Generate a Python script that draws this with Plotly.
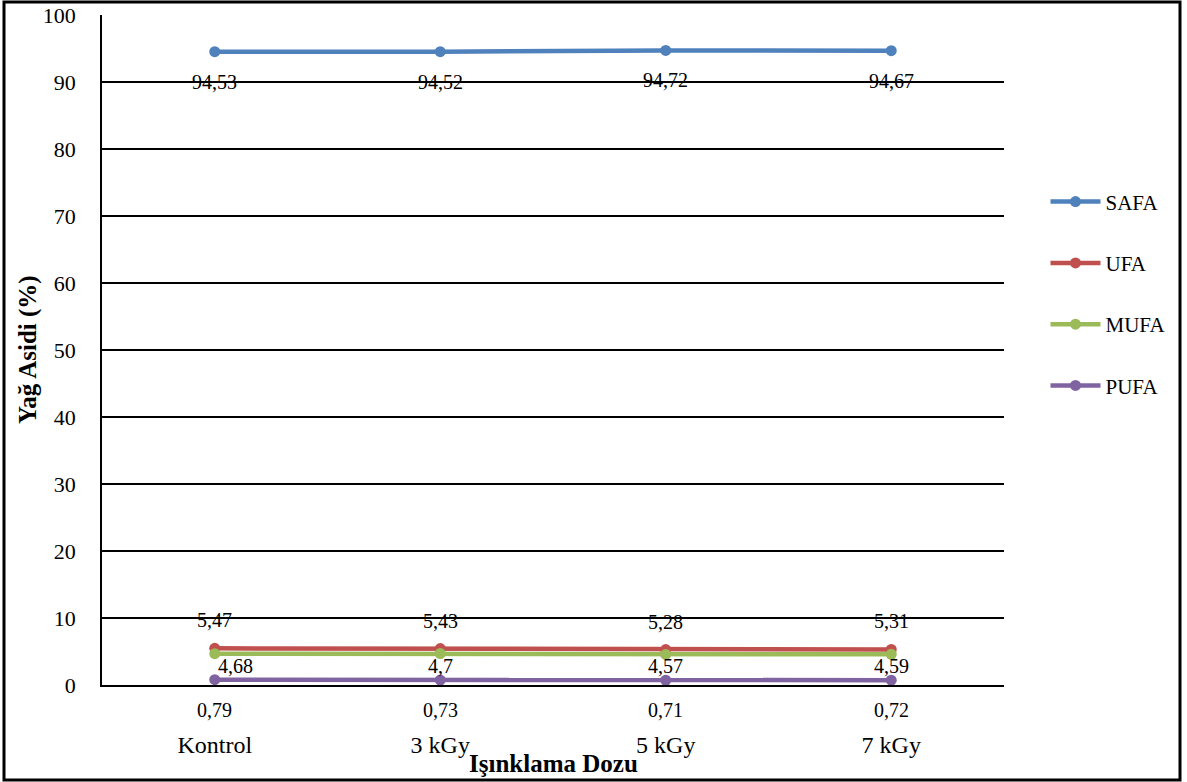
import plotly.graph_objects as go

# Irradiation doses (x categories)
doses = ["Kontrol", "3 kGy", "5 kGy", "7 kGy"]

# Fatty acid fractions (%)
safa = [94.53, 94.52, 94.72, 94.67]
ufa = [5.47, 5.43, 5.28, 5.31]
mufa = [4.68, 4.70, 4.57, 4.59]
pufa = [0.79, 0.73, 0.71, 0.72]

y_ticks = list(range(0, 101, 10))

W, H = 1187, 782
L, R, T, B = 102, 1004, 15, 685  # plot area in pixels

SERIF = "Liberation Serif, Times New Roman, serif"

series = [
    ("SAFA", safa, "#4F81BD", -30),
    ("UFA", ufa, "#C0504D", 28),
    ("MUFA", mufa, "#9BBB59", -12),
    ("PUFA", pufa, "#8064A2", -30),
]


def fmt(v):
    s = f"{v:.2f}".rstrip("0").rstrip(".")
    return s.replace(".", ",")


fig = go.Figure()
annotations = []
for name, vals, color, yshift in series:
    fig.add_trace(go.Scatter(
        x=doses, y=vals, name=name, mode="lines+markers",
        line=dict(color=color, width=4.5),
        marker=dict(color=color, size=11),
        legendgroup=name,
    ))
    for i, (d, v) in enumerate(zip(doses, vals)):
        xshift = 21 if (name == "MUFA" and i == 0) else 0
        annotations.append(dict(
            x=d, y=v, xref="x", yref="y", text=fmt(v), showarrow=False,
            yshift=yshift, xshift=xshift,
            font=dict(family=SERIF, size=20, color="#000"),
        ))

# axis titles
annotations.append(dict(
    x=0.5, y=(B - 763) / (B - T), xref="paper", yref="paper",
    xanchor="center", yanchor="middle",
    text="<b>Işınklama Dozu</b>", showarrow=False,
    font=dict(family=SERIF, size=25, color="#000"),
))
annotations.append(dict(
    x=(28 - L) / (R - L), y=0.5, xref="paper", yref="paper",
    xanchor="center", yanchor="middle",
    text="<b>Yağ Asidi (%)</b>", showarrow=False, textangle=-90,
    font=dict(family=SERIF, size=25, color="#000"),
))

# outer frame of the chart
fx0, fx1 = (4 - L) / (R - L), (1180 - L) / (R - L)
fy0, fy1 = (B - 780) / (B - T), (B - 2) / (B - T)

fig.update_layout(
    width=W, height=H,
    margin=dict(l=L, r=W - R, t=T, b=H - B, autoexpand=False),
    paper_bgcolor="white", plot_bgcolor="white",
    showlegend=True,
    legend=dict(
        x=1.046, y=0.7516, xanchor="left", yanchor="top",
        font=dict(family=SERIF, size=21, color="#000"),
        tracegroupgap=31, itemwidth=50, bgcolor="rgba(0,0,0,0)",
    ),
    annotations=annotations,
    shapes=[dict(type="rect", xref="paper", yref="paper",
                 x0=fx0, x1=fx1, y0=fy0, y1=fy1,
                 line=dict(color="#000", width=3), layer="below")],
    xaxis=dict(
        type="category", range=[-0.5, 3.5],
        showgrid=False, showline=True, linecolor="#000", linewidth=1.5,
        ticks="", ticklabelstandoff=37, automargin=False,
        tickfont=dict(family=SERIF, size=24, color="#000"),
    ),
    yaxis=dict(
        range=[0, 100], tickvals=y_ticks,
        showgrid=True, gridcolor="#000", gridwidth=1.5,
        showline=True, linecolor="#000", linewidth=1.5,
        zeroline=False, ticks="", ticklabelstandoff=20, automargin=False,
        tickfont=dict(family=SERIF, size=22, color="#000"),
    ),
)

fig.write_html("out.html")
